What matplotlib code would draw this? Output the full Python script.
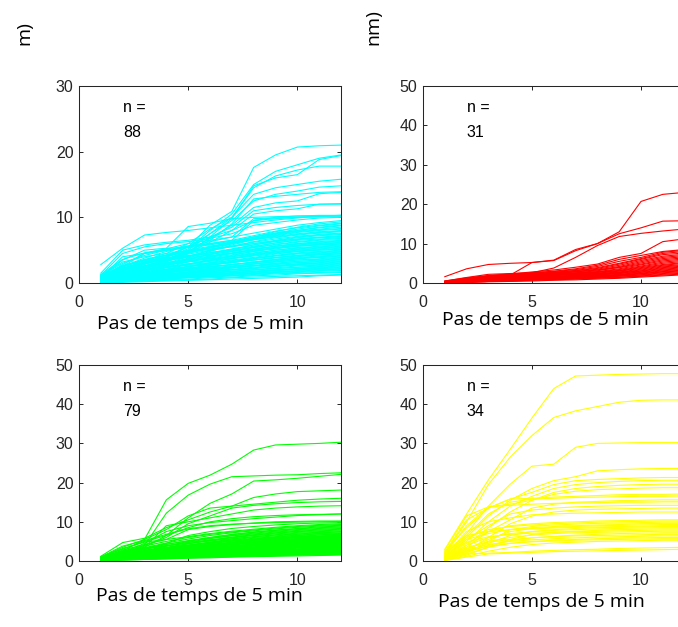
import numpy as np
import matplotlib; matplotlib.use('Agg')
import matplotlib.pyplot as plt

plt.rcParams['font.family'] = ['Liberation Sans', 'DejaVu Sans']

# time steps (5-min intervals) shared by every event curve
steps = np.arange(1, 13)

# cumulative rainfall (mm) per event, one row per event
cyan_events = [
    [1.0,2.0,3.0,4.0,5.5,8.8,10.9,17.6,19.5,20.7,20.9,21.0],
    [0.8,1.8,2.8,3.9,5.2,8.0,10.5,15.0,17.0,18.0,19.0,19.5],
    [0.6,1.5,2.5,3.5,5.0,7.5,10.0,14.5,16.3,17.2,17.8,17.8],
    [0.5,1.2,2.2,3.2,4.5,7.0,9.8,14.8,16.0,16.5,18.8,19.4],
    [1.2,2.5,3.5,4.5,6.0,8.2,10.0,13.5,14.5,15.0,15.5,15.8],
    [0.8,2.0,3.0,4.0,5.5,7.5,9.5,12.5,13.5,14.0,14.6,14.8],
    [0.5,1.5,2.5,3.5,4.8,6.5,9.0,12.8,13.2,13.5,13.8,13.9],
    [0.7,1.6,2.6,3.6,4.8,6.8,8.8,11.5,12.2,12.5,13.6,13.8],
    [1.0,2.2,3.2,4.2,5.5,7.0,8.5,11.0,11.5,11.8,12.0,12.0],
    [0.6,1.4,2.4,3.4,4.6,6.2,8.0,10.5,11.0,11.3,12.0,12.1],
    [2.8,5.3,7.3,7.7,8.0,8.4,8.8,9.2,9.6,9.9,10.2,10.3],
    [1.5,5.0,5.8,6.2,6.5,7.0,8.0,9.5,10.0,10.2,10.3,10.3],
    [1.2,4.5,5.5,6.0,6.3,6.8,7.5,8.8,9.2,9.6,9.9,10.0],
    [1.0,3.5,5.0,5.3,8.6,9.1,9.8,10.0,10.1,10.2,10.2,10.3],
    [0.8,4.0,4.5,5.0,5.5,6.0,6.5,9.5,9.8,10.0,10.2,10.2],
    [0.5,2.5,4.5,5.2,6.0,6.5,7.0,9.8,9.9,10.0,10.1,10.1],
    [0.9,2.5,3.8,4.8,5.6,6.3,7.0,7.6,8.2,8.8,9.2,9.5],
    [0.6,2.0,3.2,4.0,4.8,5.5,6.2,7.0,7.8,8.5,9.0,9.3],
    [1.1,3.0,4.2,5.0,5.6,6.0,6.5,7.2,7.9,8.4,8.8,9.1],
    [0.4,1.5,2.6,3.6,4.5,5.4,6.2,7.0,7.6,8.2,8.7,9.0],
    [0.8,2.8,4.5,5.0,5.4,5.8,6.4,7.0,7.6,8.0,8.5,8.8],
    [0.3,1.2,2.0,3.0,4.0,5.0,6.0,6.8,7.5,8.0,8.4,8.7],
    [1.0,2.2,3.4,4.3,5.0,5.6,6.2,6.8,7.4,7.9,8.2,8.5],
    [0.5,1.8,3.0,3.8,4.6,5.3,6.0,6.7,7.3,7.8,8.1,8.3],
    [0.2,0.9,1.8,2.8,3.8,4.8,5.8,6.6,7.2,7.7,8.0,8.2],
    [0.7,2.4,3.5,4.2,4.8,5.4,6.0,6.6,7.1,7.5,7.8,8.0],
    [1.3,3.6,4.6,5.2,5.6,5.9,6.2,6.6,7.0,7.4,7.7,7.9],
    [0.4,1.4,2.4,3.3,4.1,4.9,5.6,6.3,6.9,7.3,7.6,7.8],
    [0.6,1.9,2.9,3.7,4.4,5.0,5.6,6.2,6.7,7.1,7.4,7.6],
    [0.9,2.6,3.6,4.2,4.7,5.1,5.5,6.0,6.5,7.0,7.3,7.5],
    [0.3,1.0,1.9,2.8,3.6,4.4,5.1,5.8,6.4,6.9,7.2,7.4],
    [0.5,1.6,2.6,3.4,4.0,4.6,5.2,5.8,6.3,6.7,7.0,7.2],
    [1.2,3.2,4.0,4.5,4.9,5.2,5.6,6.0,6.4,6.7,6.9,7.1],
    [0.2,0.8,1.6,2.4,3.2,4.0,4.8,5.5,6.1,6.6,6.9,7.0],
    [0.7,2.1,3.0,3.6,4.1,4.6,5.1,5.6,6.1,6.5,6.7,6.9],
    [0.4,1.3,2.2,3.0,3.7,4.3,4.9,5.4,5.9,6.3,6.6,6.8],
    [0.8,2.3,3.2,3.8,4.2,4.6,5.0,5.4,5.8,6.2,6.5,6.6],
    [0.3,1.1,1.9,2.6,3.3,3.9,4.5,5.1,5.6,6.0,6.3,6.5],
    [0.6,1.7,2.5,3.1,3.6,4.1,4.6,5.1,5.6,6.0,6.2,6.4],
    [1.0,2.7,3.4,3.8,4.1,4.4,4.8,5.2,5.6,5.9,6.1,6.3],
    [0.2,0.7,1.4,2.1,2.8,3.5,4.2,4.8,5.4,5.8,6.0,6.2],
    [0.5,1.5,2.3,2.9,3.5,4.0,4.5,5.0,5.4,5.7,5.9,6.1],
    [0.4,1.2,2.0,2.7,3.3,3.8,4.3,4.8,5.2,5.6,5.8,6.0],
    [0.9,2.2,3.0,3.5,3.9,4.2,4.5,4.9,5.3,5.6,5.8,5.9],
    [0.3,0.9,1.6,2.3,2.9,3.5,4.0,4.5,5.0,5.4,5.6,5.8],
    [0.6,1.6,2.3,2.8,3.3,3.7,4.1,4.6,5.0,5.3,5.5,5.7],
    [0.2,0.6,1.2,1.8,2.5,3.1,3.7,4.3,4.8,5.2,5.4,5.6],
    [0.7,1.9,2.6,3.0,3.4,3.7,4.0,4.4,4.8,5.1,5.3,5.5],
    [0.4,1.1,1.8,2.4,2.9,3.4,3.8,4.3,4.7,5.0,5.2,5.4],
    [0.5,1.4,2.0,2.5,2.9,3.3,3.7,4.1,4.5,4.8,5.1,5.3],
    [0.3,0.8,1.4,2.0,2.5,3.0,3.5,3.9,4.4,4.8,5.0,5.2],
    [0.8,2.0,2.6,2.9,3.2,3.5,3.8,4.2,4.6,4.9,5.0,5.1],
    [0.2,0.7,1.2,1.7,2.2,2.7,3.2,3.7,4.2,4.6,4.8,5.0],
    [0.6,1.5,2.0,2.4,2.8,3.1,3.4,3.8,4.2,4.5,4.7,4.9],
    [0.4,1.0,1.6,2.1,2.5,2.9,3.3,3.7,4.1,4.4,4.6,4.8],
    [0.3,0.9,1.4,1.9,2.3,2.7,3.1,3.5,3.9,4.2,4.5,4.7],
    [0.5,1.2,1.7,2.1,2.5,2.8,3.1,3.5,3.9,4.2,4.4,4.6],
    [0.2,0.6,1.1,1.6,2.0,2.4,2.8,3.2,3.6,4.0,4.3,4.5],
    [0.7,1.6,2.1,2.4,2.7,2.9,3.2,3.5,3.8,4.1,4.3,4.4],
    [0.3,0.8,1.3,1.7,2.1,2.5,2.8,3.2,3.6,3.9,4.1,4.3],
    [0.4,1.0,1.5,1.9,2.2,2.5,2.8,3.1,3.5,3.8,4.0,4.2],
    [0.2,0.5,0.9,1.3,1.7,2.1,2.5,2.9,3.3,3.7,3.9,4.1],
    [0.6,1.3,1.7,2.0,2.3,2.5,2.8,3.1,3.4,3.7,3.9,4.0],
    [0.3,0.7,1.1,1.5,1.9,2.2,2.5,2.9,3.2,3.5,3.7,3.9],
    [0.5,1.1,1.5,1.8,2.1,2.3,2.6,2.9,3.2,3.5,3.6,3.8],
    [0.2,0.5,0.9,1.2,1.6,1.9,2.3,2.6,3.0,3.3,3.5,3.7],
    [0.4,0.9,1.3,1.6,1.9,2.2,2.4,2.7,3.0,3.3,3.4,3.6],
    [0.3,0.7,1.0,1.4,1.7,2.0,2.3,2.6,2.9,3.1,3.3,3.5],
    [0.6,1.2,1.5,1.7,1.9,2.1,2.3,2.6,2.8,3.1,3.2,3.4],
    [0.2,0.4,0.8,1.1,1.4,1.7,2.0,2.3,2.6,2.9,3.1,3.3],
    [0.4,0.8,1.1,1.4,1.6,1.9,2.1,2.4,2.7,2.9,3.0,3.2],
    [0.3,0.6,0.9,1.2,1.5,1.7,2.0,2.2,2.5,2.8,2.9,3.1],
    [0.5,0.9,1.2,1.4,1.6,1.8,2.0,2.2,2.5,2.7,2.8,3.0],
    [0.2,0.4,0.7,1.0,1.2,1.5,1.8,2.0,2.3,2.6,2.7,2.9],
    [0.3,0.6,0.9,1.1,1.3,1.5,1.7,2.0,2.2,2.4,2.6,2.8],
    [0.4,0.7,1.0,1.2,1.4,1.6,1.8,2.0,2.2,2.4,2.5,2.7],
    [0.2,0.4,0.6,0.9,1.1,1.3,1.5,1.8,2.0,2.2,2.4,2.6],
    [0.3,0.5,0.8,1.0,1.2,1.4,1.6,1.8,2.0,2.2,2.3,2.5],
    [0.1,0.3,0.6,0.8,1.0,1.2,1.4,1.6,1.9,2.1,2.2,2.4],
    [0.3,0.6,0.8,1.0,1.1,1.3,1.5,1.7,1.9,2.0,2.2,2.3],
    [0.2,0.4,0.6,0.8,1.0,1.2,1.4,1.5,1.7,1.9,2.1,2.2],
    [0.1,0.3,0.5,0.7,0.9,1.1,1.3,1.5,1.7,1.8,2.0,2.1],
    [0.2,0.4,0.6,0.7,0.9,1.0,1.2,1.4,1.6,1.7,1.9,2.0],
    [0.1,0.2,0.4,0.6,0.8,1.0,1.1,1.3,1.5,1.6,1.8,1.9],
    [0.2,0.3,0.5,0.6,0.8,0.9,1.1,1.2,1.4,1.5,1.6,1.7],
    [0.1,0.2,0.3,0.5,0.6,0.8,0.9,1.1,1.2,1.4,1.5,1.6],
    [0.1,0.2,0.3,0.4,0.5,0.6,0.8,0.9,1.0,1.1,1.2,1.3],
    [0.0,0.1,0.2,0.3,0.4,0.5,0.6,0.7,0.8,0.9,1.1,1.2],
]

red_events = [
    [1.6,3.6,4.7,5.0,5.2,5.7,8.2,10.0,13.0,20.7,22.5,23.0],
    [0.3,1.0,1.5,2.0,5.2,5.8,8.5,10.0,12.5,14.0,15.7,15.8],
    [0.2,0.8,1.4,2.0,2.6,3.8,6.5,9.5,11.8,12.6,13.2,13.7],
    [0.4,1.2,1.8,2.3,2.8,3.3,4.0,4.8,6.5,7.5,10.5,11.2],
    [0.5,1.4,2.2,2.4,2.6,3.0,3.6,4.5,6.0,7.0,8.0,8.5],
    [0.3,1.0,1.8,2.2,2.5,2.9,3.4,4.2,5.5,6.5,7.8,8.3],
    [0.2,0.9,1.6,2.0,2.3,2.7,3.2,3.9,5.0,6.2,7.5,8.0],
    [0.4,1.1,1.7,2.1,2.4,2.7,3.1,3.7,4.8,6.0,7.2,7.6],
    [0.1,0.7,1.4,1.8,2.2,2.5,2.9,3.5,4.5,5.7,6.8,7.3],
    [0.3,1.0,1.5,1.9,2.1,2.4,2.8,3.3,4.2,5.4,6.5,7.0],
    [0.2,0.8,1.3,1.7,2.0,2.3,2.6,3.1,4.0,5.1,6.2,6.7],
    [0.5,1.3,1.9,2.2,2.4,2.6,2.9,3.3,3.9,4.8,5.9,6.4],
    [0.1,0.6,1.1,1.5,1.8,2.1,2.5,2.9,3.6,4.6,5.6,6.1],
    [0.3,0.9,1.4,1.7,2.0,2.2,2.5,2.8,3.4,4.3,5.3,5.8],
    [0.2,0.7,1.2,1.5,1.8,2.0,2.3,2.7,3.2,4.1,5.0,5.5],
    [0.4,1.0,1.4,1.7,1.9,2.1,2.4,2.7,3.1,3.9,4.7,5.2],
    [0.1,0.5,1.0,1.3,1.6,1.9,2.2,2.5,3.0,3.7,4.5,5.0],
    [0.3,0.8,1.2,1.5,1.7,1.9,2.1,2.4,2.8,3.5,4.3,4.7],
    [0.2,0.6,1.0,1.3,1.5,1.7,2.0,2.3,2.7,3.3,4.1,4.5],
    [0.1,0.5,0.9,1.2,1.4,1.6,1.9,2.2,2.6,3.1,3.9,4.3],
    [0.3,0.7,1.0,1.2,1.4,1.6,1.8,2.1,2.5,3.0,3.7,4.1],
    [0.2,0.5,0.8,1.1,1.3,1.5,1.7,2.0,2.4,2.8,3.5,3.9],
    [0.1,0.4,0.7,1.0,1.2,1.4,1.6,1.9,2.2,2.7,3.3,3.7],
    [0.2,0.5,0.8,1.0,1.2,1.3,1.5,1.8,2.1,2.5,3.1,3.5],
    [0.1,0.3,0.6,0.8,1.0,1.2,1.4,1.7,2.0,2.4,2.9,3.3],
    [0.2,0.4,0.7,0.9,1.1,1.2,1.4,1.6,1.9,2.3,2.8,3.1],
    [0.1,0.3,0.5,0.7,0.9,1.1,1.3,1.5,1.8,2.1,2.6,2.9],
    [0.1,0.2,0.4,0.6,0.8,1.0,1.2,1.4,1.7,2.0,2.4,2.7],
    [0.1,0.3,0.5,0.7,0.8,0.9,1.1,1.3,1.5,1.8,2.2,2.5],
    [0.0,0.2,0.4,0.5,0.7,0.8,1.0,1.2,1.4,1.7,2.0,2.3],
    [0.0,0.1,0.3,0.4,0.5,0.7,0.8,1.0,1.2,1.5,1.8,2.1],
]

green_events = [
    [1.0,2.5,5.5,15.6,19.8,21.9,24.7,28.3,29.6,29.8,30.0,30.3],
    [0.8,2.0,4.0,12.2,16.8,19.6,21.5,21.7,21.9,22.0,22.3,22.5],
    [0.6,1.8,3.5,6.5,11.0,14.7,17.1,20.4,20.7,21.1,21.6,22.1],
    [1.2,4.7,5.8,8.5,10.5,12.5,14.0,16.2,17.1,17.7,17.9,18.1],
    [0.9,3.5,5.5,8.0,11.5,13.5,14.0,14.5,15.0,15.5,15.8,16.0],
    [0.7,2.5,4.0,6.0,9.5,11.5,13.5,14.2,14.6,14.9,15.1,15.2],
    [0.5,2.0,3.5,9.0,10.0,11.0,12.0,13.0,13.5,13.8,14.0,14.1],
    [1.1,3.0,5.0,6.5,8.5,10.0,10.8,11.3,11.6,11.8,11.9,12.0],
    [0.6,2.2,4.5,7.5,9.0,9.8,10.3,10.8,11.2,11.6,11.8,12.0],
    [0.8,2.8,4.2,5.5,8.0,8.8,9.3,9.7,10.0,10.1,10.2,10.2],
    [1.0,3.8,5.2,6.8,8.2,9.0,9.4,9.6,9.8,9.9,10.0,10.1],
    [0.4,1.6,3.0,4.5,6.5,7.5,8.3,8.8,9.2,9.5,9.7,9.8],
    [0.9,3.2,4.8,5.5,6.2,7.0,7.6,8.1,8.6,9.0,9.3,9.5],
    [0.5,2.0,3.8,5.0,6.0,6.8,7.4,7.9,8.4,8.8,9.1,9.3],
    [0.7,2.6,3.4,4.6,5.6,6.5,7.2,7.7,8.2,8.6,8.9,9.1],
    [0.3,1.2,2.4,3.8,5.0,6.0,6.8,7.4,7.9,8.3,8.7,8.9],
    [0.6,1.8,3.0,4.2,5.2,6.0,6.7,7.3,7.8,8.2,8.5,8.7],
    [0.4,1.4,2.6,3.8,4.8,5.7,6.5,7.1,7.6,8.0,8.3,8.5],
    [0.8,2.2,3.3,4.3,5.1,5.8,6.4,6.9,7.4,7.8,8.1,8.3],
    [0.3,1.1,2.2,3.3,4.4,5.3,6.1,6.7,7.2,7.6,7.9,8.1],
    [0.7,2.0,3.0,3.9,4.7,5.4,6.0,6.6,7.1,7.5,7.7,7.9],
    [0.5,1.5,2.5,3.5,4.4,5.2,5.9,6.5,6.9,7.3,7.5,7.7],
    [0.2,0.9,1.9,2.9,3.9,4.8,5.6,6.2,6.7,7.1,7.3,7.5],
    [0.9,2.4,3.2,3.9,4.5,5.1,5.7,6.2,6.6,6.9,7.2,7.4],
    [0.4,1.3,2.3,3.2,4.0,4.8,5.4,6.0,6.4,6.8,7.0,7.2],
    [0.6,1.7,2.6,3.4,4.1,4.7,5.3,5.8,6.2,6.6,6.9,7.0],
    [0.3,1.0,1.9,2.8,3.6,4.4,5.1,5.6,6.1,6.5,6.7,6.9],
    [0.5,1.4,2.3,3.1,3.8,4.5,5.1,5.6,6.0,6.3,6.6,6.8],
    [0.8,2.0,2.8,3.4,4.0,4.6,5.1,5.5,5.9,6.2,6.4,6.6],
    [0.2,0.8,1.6,2.5,3.3,4.1,4.8,5.4,5.8,6.1,6.3,6.5],
    [0.6,1.6,2.4,3.0,3.6,4.2,4.8,5.3,5.7,6.0,6.2,6.4],
    [0.4,1.2,2.0,2.8,3.5,4.1,4.7,5.2,5.6,5.9,6.1,6.3],
    [0.7,1.8,2.5,3.1,3.6,4.1,4.6,5.0,5.4,5.7,6.0,6.2],
    [0.3,0.9,1.7,2.5,3.2,3.9,4.5,5.0,5.4,5.7,5.9,6.1],
    [0.5,1.3,2.1,2.8,3.4,3.9,4.4,4.9,5.3,5.6,5.8,6.0],
    [0.2,0.7,1.4,2.2,3.0,3.7,4.3,4.8,5.2,5.5,5.7,5.9],
    [0.6,1.5,2.2,2.8,3.3,3.8,4.3,4.7,5.1,5.4,5.6,5.8],
    [0.4,1.1,1.8,2.5,3.1,3.6,4.1,4.6,5.0,5.3,5.5,5.7],
    [0.8,1.9,2.5,3.0,3.4,3.8,4.2,4.6,4.9,5.2,5.4,5.6],
    [0.3,0.8,1.5,2.2,2.8,3.4,3.9,4.4,4.8,5.1,5.3,5.5],
    [0.5,1.2,1.9,2.5,3.0,3.5,3.9,4.3,4.7,5.0,5.2,5.4],
    [0.2,0.6,1.2,1.9,2.5,3.1,3.7,4.2,4.6,4.9,5.1,5.3],
    [0.6,1.4,2.0,2.5,2.9,3.3,3.7,4.1,4.5,4.8,5.0,5.2],
    [0.4,1.0,1.6,2.2,2.7,3.2,3.6,4.0,4.4,4.7,4.9,5.1],
    [0.3,0.8,1.4,2.0,2.5,3.0,3.4,3.9,4.3,4.6,4.8,5.0],
    [0.7,1.6,2.1,2.5,2.9,3.2,3.6,3.9,4.2,4.5,4.7,4.9],
    [0.5,1.1,1.7,2.2,2.6,3.0,3.4,3.8,4.1,4.4,4.6,4.8],
    [0.2,0.6,1.1,1.7,2.2,2.7,3.2,3.6,4.0,4.3,4.5,4.7],
    [0.4,1.0,1.5,2.0,2.4,2.8,3.2,3.6,3.9,4.2,4.4,4.6],
    [0.6,1.3,1.8,2.2,2.5,2.9,3.2,3.5,3.8,4.1,4.3,4.5],
    [0.3,0.7,1.2,1.7,2.2,2.6,3.0,3.4,3.7,4.0,4.2,4.4],
    [0.5,1.1,1.5,1.9,2.3,2.6,3.0,3.3,3.6,3.9,4.1,4.3],
    [0.2,0.5,1.0,1.5,2.0,2.4,2.8,3.2,3.5,3.8,4.0,4.2],
    [0.4,0.9,1.4,1.8,2.2,2.5,2.9,3.2,3.5,3.7,3.9,4.1],
    [0.6,1.2,1.6,1.9,2.2,2.5,2.8,3.1,3.4,3.6,3.8,4.0],
    [0.3,0.7,1.1,1.5,1.9,2.3,2.6,3.0,3.3,3.5,3.7,3.9],
    [0.5,1.0,1.4,1.7,2.0,2.3,2.6,2.9,3.2,3.4,3.6,3.8],
    [0.2,0.5,0.9,1.3,1.7,2.1,2.4,2.8,3.1,3.3,3.5,3.7],
    [0.4,0.8,1.2,1.6,1.9,2.2,2.5,2.8,3.0,3.3,3.4,3.6],
    [0.3,0.6,1.0,1.4,1.7,2.0,2.3,2.6,2.9,3.1,3.3,3.5],
    [0.5,0.9,1.3,1.6,1.8,2.1,2.3,2.6,2.8,3.0,3.2,3.4],
    [0.2,0.5,0.8,1.2,1.5,1.8,2.1,2.4,2.7,2.9,3.1,3.3],
    [0.4,0.8,1.1,1.4,1.7,1.9,2.2,2.4,2.7,2.9,3.0,3.2],
    [0.3,0.6,0.9,1.2,1.5,1.8,2.0,2.3,2.5,2.7,2.9,3.1],
    [0.6,1.0,1.3,1.5,1.7,1.9,2.1,2.3,2.5,2.7,2.8,3.0],
    [0.2,0.4,0.7,1.0,1.3,1.6,1.9,2.1,2.4,2.6,2.7,2.9],
    [0.4,0.7,1.0,1.3,1.5,1.7,1.9,2.1,2.3,2.5,2.7,2.8],
    [0.3,0.5,0.8,1.1,1.3,1.6,1.8,2.0,2.2,2.4,2.5,2.7],
    [0.5,0.8,1.1,1.3,1.5,1.7,1.8,2.0,2.2,2.3,2.5,2.6],
    [0.2,0.4,0.6,0.9,1.1,1.4,1.6,1.8,2.0,2.2,2.4,2.5],
    [0.3,0.6,0.8,1.0,1.2,1.4,1.6,1.8,2.0,2.1,2.3,2.4],
    [0.4,0.6,0.9,1.1,1.3,1.4,1.6,1.8,1.9,2.1,2.2,2.3],
    [0.2,0.4,0.6,0.8,1.0,1.2,1.4,1.6,1.8,1.9,2.1,2.2],
    [0.3,0.5,0.7,0.9,1.1,1.2,1.4,1.5,1.7,1.8,2.0,2.1],
    [0.2,0.3,0.5,0.7,0.9,1.1,1.2,1.4,1.6,1.7,1.9,2.0],
    [0.4,0.6,0.8,0.9,1.1,1.2,1.3,1.5,1.6,1.7,1.8,1.9],
    [0.1,0.3,0.4,0.6,0.8,1.0,1.1,1.3,1.4,1.6,1.7,1.8],
    [0.3,0.4,0.6,0.7,0.9,1.0,1.1,1.3,1.4,1.5,1.6,1.7],
    [0.1,0.2,0.4,0.5,0.7,0.8,1.0,1.1,1.2,1.3,1.4,1.5],
]

yellow_events = [
    [3.0,12.0,20.7,28.5,36.5,44.0,47.2,47.4,47.6,47.7,47.8,47.8],
    [2.0,10.0,19.5,26.5,32.0,36.6,38.3,39.4,40.5,41.0,41.1,41.1],
    [1.5,7.0,14.0,19.6,24.2,24.7,29.0,30.0,30.1,30.2,30.2,30.2],
    [1.0,6.0,11.5,15.5,18.5,20.5,21.5,23.0,23.3,23.5,23.6,23.6],
    [2.5,8.5,13.5,15.8,17.5,19.5,20.5,20.8,21.0,21.2,21.3,21.3],
    [0.8,5.0,10.0,14.0,16.5,18.5,19.5,20.0,20.3,20.5,20.6,20.6],
    [1.8,9.0,13.8,14.5,15.5,17.5,18.5,19.0,19.3,19.5,19.6,19.6],
    [0.5,4.0,8.5,12.5,15.5,17.0,17.8,18.2,18.4,18.6,18.7,18.7],
    [2.2,10.5,13.5,15.8,16.0,16.3,16.5,16.7,16.9,17.0,17.0,17.1],
    [1.2,6.5,12.0,15.0,15.8,16.0,16.2,16.3,16.4,16.5,16.5,16.6],
    [0.6,3.5,7.5,10.5,13.5,14.5,15.0,15.2,15.4,15.5,15.6,15.6],
    [2.8,11.5,13.8,14.2,14.5,14.7,14.8,14.9,15.0,15.0,15.1,15.1],
    [1.0,5.5,9.0,12.0,13.0,13.5,13.8,14.0,14.1,14.2,14.2,14.2],
    [0.4,2.5,6.0,9.5,11.5,12.5,13.0,13.2,13.3,13.4,13.5,13.5],
    [1.5,7.5,10.0,11.0,11.8,12.0,12.2,12.3,12.4,12.5,12.5,12.5],
    [0.9,4.5,7.5,9.0,9.5,9.8,10.0,10.2,10.3,10.4,10.5,10.5],
    [2.0,6.0,8.0,8.8,9.2,9.5,9.7,9.9,10.0,10.1,10.2,10.2],
    [0.3,2.0,5.0,8.0,8.8,9.2,9.4,9.6,9.7,9.8,9.9,9.9],
    [1.3,5.5,7.0,8.0,8.5,8.8,9.0,9.2,9.3,9.5,9.6,9.6],
    [0.7,3.0,5.5,7.5,8.3,8.6,8.8,9.0,9.1,9.2,9.3,9.3],
    [2.5,6.5,7.5,8.0,8.2,8.4,8.6,8.7,8.8,8.9,9.0,9.0],
    [0.5,2.5,4.5,6.5,7.5,8.0,8.3,8.5,8.6,8.7,8.8,8.8],
    [1.0,4.0,6.0,7.0,7.5,7.8,8.0,8.2,8.3,8.4,8.5,8.5],
    [0.2,1.5,3.5,5.5,6.8,7.3,7.6,7.8,8.0,8.1,8.2,8.2],
    [1.6,4.8,6.2,6.8,7.1,7.3,7.5,7.6,7.7,7.8,7.9,7.9],
    [0.8,3.2,5.0,6.0,6.6,7.0,7.2,7.3,7.4,7.5,7.6,7.6],
    [0.4,2.2,4.0,5.2,5.9,6.3,6.6,6.8,7.0,7.1,7.2,7.2],
    [1.2,3.5,4.8,5.5,5.9,6.2,6.4,6.5,6.6,6.7,6.8,6.8],
    [0.6,2.8,4.2,5.0,5.4,5.7,5.9,6.1,6.2,6.3,6.4,6.4],
    [0.3,1.8,3.5,4.5,5.0,5.3,5.5,5.7,5.8,5.9,6.0,6.0],
    [0.9,2.5,3.8,4.5,4.9,5.1,5.3,5.4,5.5,5.6,5.7,5.7],
    [0.2,1.2,2.5,3.5,4.2,4.6,4.8,5.0,5.1,5.2,5.3,5.3],
    [0.5,1.8,2.0,2.2,2.5,2.7,2.9,3.0,3.2,3.3,3.4,3.5],
    [0.1,1.0,1.8,2.0,2.2,2.4,2.5,2.6,2.7,2.8,2.9,3.0],
]

W, H = 678, 627
fig = plt.figure(figsize=(W / 100, H / 100), dpi=100)
fig.patch.set_facecolor('white')

INK = '#262626'
LABEL_FONT = ['Open Sans', 'DejaVu Sans']


def px_axes(left, top, right, bottom):
    # axes rectangle given in pixel edges (origin top-left)
    return fig.add_axes([left / W, 1 - bottom / H, (right - left) / W, (bottom - top) / H])


panels = [
    # events, colour, ymax, axes box (px), xlabel centre (px)
    (cyan_events, (0, 1, 1), 30, (79, 86, 341, 283), (200, 324)),
    (red_events, (1, 0, 0), 50, (423, 86, 684.6, 283), (545, 320)),
    (green_events, (0, 1, 0), 50, (79, 365, 341, 561), (199, 596)),
    (yellow_events, (1, 1, 0), 50, (423, 365, 684.6, 561), (541, 602)),
]

for events, color, ymax, box, lab in panels:
    ax = px_axes(*box)
    for ev in events:
        ax.plot(steps, ev, color=color, lw=0.8)
    ax.set_xlim(0, 12)
    ax.set_ylim(0, ymax)
    ax.set_xticks([0, 5, 10])
    ax.set_yticks(np.arange(0, ymax + 1, 10))
    ax.tick_params(direction='in', length=3.2, width=0.7, colors=INK,
                   labelsize=11.5, top=True, right=True)
    ax.tick_params(axis='x', pad=8.5)
    ax.tick_params(axis='y', pad=4)
    for s in ax.spines.values():
        s.set_color(INK)
        s.set_linewidth(0.75)
    ax.text(0.168, 0.89, 'n =', transform=ax.transAxes, fontsize=11.5,
            va='center', ha='left', color='black')
    ax.text(0.168, 0.765, str(len(events)), transform=ax.transAxes, fontsize=11.5,
            va='center', ha='left', color='black')
    fig.text(lab[0] / W, 1 - lab[1] / H, 'Pas de temps de 5 min', fontsize=14,
             family=LABEL_FONT, ha='center', va='center', color='black')

# remnants of the shared y-axis titles
fig.text(24 / W, 1 - 33 / H, 'm)', rotation=90, fontsize=14, family=LABEL_FONT,
         ha='center', va='center', color='black')
fig.text(373 / W, 1 - 27 / H, 'nm)', rotation=90, fontsize=14, family=LABEL_FONT,
         ha='center', va='center', color='black')

fig.savefig('out.png', dpi=100, facecolor='white')
